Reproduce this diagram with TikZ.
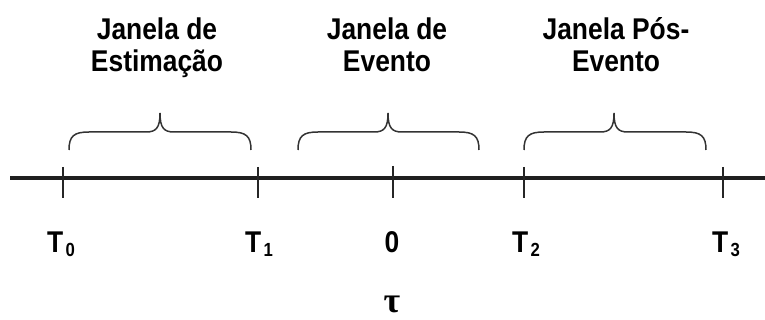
\documentclass[tikz,border=0pt]{standalone}
\usepackage{fontspec}
\newfontfamily\lab[FakeStretch=0.88]{Liberation Sans}
\newfontfamily\taufont{Liberation Serif}
\begin{document}
\begin{tikzpicture}[x=1pt,y=-1pt,
  wlabel/.style={font=\lab\bfseries\fontsize{30}{32}\selectfont, align=center, inner sep=0pt, anchor=base},
  tlabel/.style={font=\lab\bfseries\fontsize{30}{32}\selectfont, inner sep=0pt, anchor=base},
  axisline/.style={line width=3.5pt, color=black!88},
  tickline/.style={line width=1.4pt, color=black!85},
  bracestyle/.style={line width=1.5pt, color=black!80}]
\useasboundingbox (0,0) rectangle (765,320);
% axis
\coordinate (aL) at (10,178);
\coordinate (aR) at (765,178);
\draw[axisline] (aL) -- (aR);
% ticks
\foreach \n/\x in {t0/63,t1/258,t2/524,t3/723}{
  \coordinate (\n top) at (\x,167);
  \coordinate (\n bot) at (\x,198);
  \draw[tickline] (\n top) -- (\n bot);
}
\coordinate (zt) at (393,166);
\coordinate (zb) at (393,198);
\draw[tickline, line width=2.4pt] (zt) -- (zb);
% braces
\foreach \xl/\xm/\xr in {69/160/251, 298/388/479, 524/614/706}{
  \draw[bracestyle] (\xl,150) .. controls (\xl,136) and (\xl+5,132) .. (\xl+20,132)
    -- (\xm-14,132) .. controls (\xm-4,132) and (\xm,128) .. (\xm,113)
    .. controls (\xm,128) and (\xm+4,132) .. (\xm+14,132)
    -- (\xr-20,132) .. controls (\xr-5,132) and (\xr,136) .. (\xr,150);
}
% window labels (base = baseline of last line)
\node[wlabel] (w1) at (157,72) {Janela de\\Estimação};
\node[wlabel] (w2) at (387,72) {Janela de\\Evento};
\node[wlabel] (w3) at (616,72) {Janela Pós-\\Evento};
% tick labels
\newcommand{\mysub}[1]{\hspace{2.5pt}\raisebox{-5pt}{\fontsize{19}{19}\selectfont #1}}
\node[tlabel] (T0) at (61,252) {T\mysub{0}};
\node[tlabel] (T1) at (259,252) {T\mysub{1}};
\node[tlabel] (Z0) at (392,252) {0};
\node[tlabel] (T2) at (526,252) {T\mysub{2}};
\node[tlabel] (T3) at (726,252) {T\mysub{3}};
\node[font=\taufont\bfseries\fontsize{36}{36}\selectfont, inner sep=0pt, anchor=base] (tau) at (392,312) {τ};
\end{tikzpicture}
\end{document}
